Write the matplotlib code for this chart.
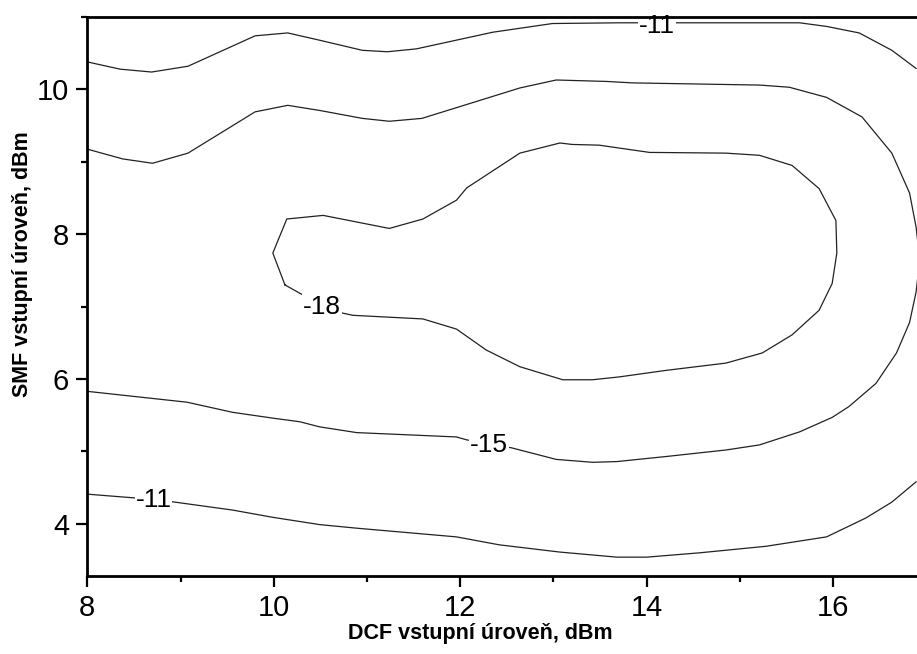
import matplotlib
matplotlib.use("Agg")
import matplotlib.pyplot as plt
from matplotlib.ticker import MultipleLocator

# contour lines (DCF level x, SMF level y)
upper_11_x = [8.0, 8.35, 8.69, 9.08, 9.80, 10.15, 10.49, 10.95, 11.22, 11.53, 12.35, 12.99,
              13.71, 14.32, 15.64, 15.93, 16.28, 16.63, 16.89]
upper_11_y = [10.38, 10.28, 10.24, 10.32, 10.74, 10.78, 10.68, 10.54, 10.52, 10.56, 10.79, 10.91,
              10.92, 10.92, 10.92, 10.87, 10.78, 10.54, 10.29]

lower_11_x = [8.0, 8.49, 8.94, 9.56, 9.99, 10.49, 10.89, 11.96, 12.42, 13.07, 13.42, 13.68,
              14.00, 14.57, 15.28, 15.93, 16.35, 16.63, 16.89]
lower_11_y = [4.41, 4.36, 4.30, 4.19, 4.09, 3.99, 3.94, 3.82, 3.71, 3.61, 3.57, 3.54,
              3.54, 3.60, 3.69, 3.82, 4.08, 4.30, 4.58]

line_15_x = [8.0, 8.38, 8.70, 9.08, 9.80, 10.15, 10.49, 10.95, 11.24, 11.59, 11.99, 12.64, 13.03,
             13.57, 13.85, 15.21, 15.53, 15.93, 16.31, 16.63, 16.82, 16.89, 16.93, 16.89, 16.82,
             16.68, 16.46, 16.17, 15.99, 15.64, 15.21, 14.85, 14.21, 13.68, 13.42, 13.03, 12.55,
             12.07, 11.96, 11.43, 10.89, 10.49, 10.28, 9.99, 9.56, 9.07, 8.57, 8.0]
line_15_y = [9.175, 9.04, 8.98, 9.12, 9.69, 9.78, 9.71, 9.60, 9.56, 9.60, 9.76, 10.02, 10.13,
             10.11, 10.09, 10.06, 10.03, 9.89, 9.62, 9.12, 8.57, 8.10, 7.65, 7.20, 6.78,
             6.36, 5.94, 5.62, 5.47, 5.27, 5.09, 5.02, 4.93, 4.86, 4.85, 4.89, 5.05,
             5.16, 5.20, 5.23, 5.26, 5.34, 5.41, 5.46, 5.54, 5.68, 5.75, 5.83]

line_18_x = [10.12, 10.30, 10.74, 10.85, 11.60, 11.96, 12.28, 12.64, 13.10, 13.42, 13.71, 14.21,
             14.85, 15.24, 15.56, 15.85, 15.99, 16.04, 16.03, 15.85, 15.56, 15.21, 14.85, 14.03,
             13.49, 13.20, 13.07, 12.64, 12.07, 11.96, 11.60, 11.24, 10.53, 10.14, 9.99, 10.12]
line_18_y = [7.30, 7.17, 6.91, 6.88, 6.83, 6.69, 6.40, 6.17, 5.99, 5.99, 6.03, 6.12,
             6.22, 6.36, 6.61, 6.95, 7.32, 7.74, 8.19, 8.63, 8.95, 9.09, 9.12, 9.13,
             9.23, 9.24, 9.26, 9.12, 8.64, 8.47, 8.21, 8.08, 8.26, 8.21, 7.74, 7.30]

# contour labels: text, x, y
labels = [("-11", 14.11, 10.87), ("-11", 8.71, 4.33), ("-15", 12.31, 5.09), ("-18", 10.52, 7.0)]

plt.rcParams['font.family'] = ['Liberation Sans', 'DejaVu Sans']

fig = plt.figure(figsize=(9.17, 6.54), dpi=100)
ax = fig.add_axes([0.0952, 0.1193, 0.9048, 0.8547])

for xs, ys in [(upper_11_x, upper_11_y), (lower_11_x, lower_11_y),
               (line_15_x, line_15_y), (line_18_x, line_18_y)]:
    ax.plot(xs, ys, color='#222222', linewidth=0.9, zorder=2)

for txt, x, y in labels:
    ax.text(x, y, txt, fontsize=19, ha='center', va='center', zorder=2.4,
            bbox=dict(facecolor='white', edgecolor='none', pad=0.5))

ax.set_xlim(8, 16.9)
ax.set_ylim(3.28, 11.0)
ax.xaxis.set_major_locator(MultipleLocator(2))
ax.xaxis.set_minor_locator(MultipleLocator(1))
ax.yaxis.set_major_locator(MultipleLocator(2))
ax.yaxis.set_minor_locator(MultipleLocator(1))
ax.tick_params(which='major', length=8, width=1.6, labelsize=21, pad=5, direction='out')
ax.tick_params(which='minor', length=4, width=1.6, direction='out')
ax.tick_params(top=False, right=False)

for side in ['left', 'bottom', 'top']:
    ax.spines[side].set_linewidth(2.0)
ax.spines['right'].set_visible(False)

fig.text(480 / 917, 1 - 634 / 654, 'DCF vstupní úroveň, dBm', fontsize=15.5,
         fontweight='bold', ha='center', va='center')
fig.text(23 / 917, 1 - 264 / 654, 'SMF vstupní úroveň, dBm', fontsize=15.5,
         fontweight='bold', ha='center', va='center', rotation=90)

fig.savefig('out.png', dpi=100)
